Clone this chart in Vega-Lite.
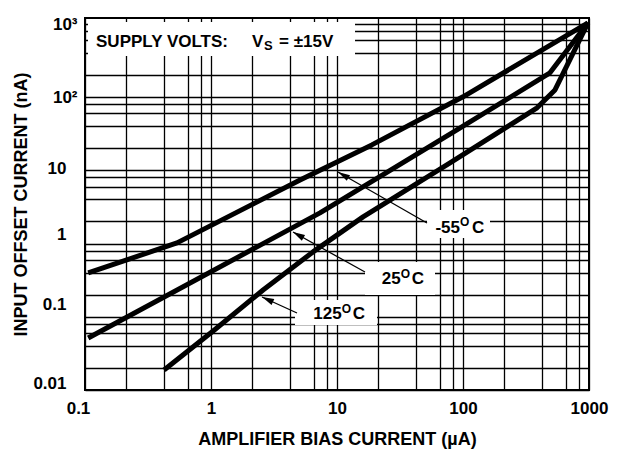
{
  "$schema": "https://vega.github.io/schema/vega-lite/v6.json",
  "width": 504,
  "height": 372,
  "autosize": {"type": "none"},
  "padding": {"left": 85, "top": 18, "right": 34, "bottom": 59},
  "background": "white",
  "config": {
    "view": {"stroke": "black", "strokeWidth": 2},
    "font": "Liberation Sans",
    "text": {"font": "Liberation Sans", "fontWeight": "bold", "fontSize": 17, "fill": "black", "baseline": "middle"}
  },
  "layer": [
    {
      "data": {"values": [
        {"series": "-55C", "x": 0.106, "y": 0.396},
        {"series": "-55C", "x": 0.537, "y": 1.02},
        {"series": "-55C", "x": 5.09, "y": 7.39},
        {"series": "-55C", "x": 18.9, "y": 22.2},
        {"series": "-55C", "x": 100, "y": 100.7},
        {"series": "-55C", "x": 982, "y": 1032},
        {"series": "25C", "x": 0.106, "y": 0.0513},
        {"series": "25C", "x": 7.33, "y": 2.62},
        {"series": "25C", "x": 81.8, "y": 32.4},
        {"series": "25C", "x": 490, "y": 214},
        {"series": "25C", "x": 982, "y": 1032},
        {"series": "125C", "x": 0.424, "y": 0.0188},
        {"series": "125C", "x": 1.04, "y": 0.064},
        {"series": "125C", "x": 2.59, "y": 0.232},
        {"series": "125C", "x": 6.45, "y": 0.768},
        {"series": "125C", "x": 16.1, "y": 2.31},
        {"series": "125C", "x": 78.9, "y": 12.6},
        {"series": "125C", "x": 387, "y": 71.2},
        {"series": "125C", "x": 537, "y": 125},
        {"series": "125C", "x": 982, "y": 1032}
      ]},
      "mark": {"type": "line", "stroke": "black", "strokeWidth": 5, "strokeCap": "butt", "strokeJoin": "round"},
      "encoding": {
        "x": {
          "field": "x", "type": "quantitative",
          "scale": {"type": "log", "domain": [0.1, 1000], "nice": false},
          "axis": {
            "title": "AMPLIFIER BIAS CURRENT (µA)",
            "titleFont": "Liberation Sans", "titleFontWeight": "bold", "titleFontSize": 18, "titleColor": "black",
            "titleX": 252, "titleY": 49, "titleBaseline": "middle", "titleAlign": "center",
            "values": [0.1, 0.21, 0.42, 0.66, 0.83, 1, 2.1, 4.2, 6.6, 8.3, 10, 21, 42, 66, 83, 100, 210, 420, 660, 830, 1000],
            "labelExpr": "datum.value==0.1?'0.1':datum.value==1?'1':datum.value==10?'10':datum.value==100?'100':datum.value==1000?'1000':''",
            "labelFont": "Liberation Sans", "labelFontWeight": "bold", "labelFontSize": 17, "labelColor": "black",
            "labelBaseline": "middle", "labelPadding": 18, "labelFlush": false, "labelOverlap": false,
            "labelOffset": {"condition": {"test": "datum.value == 0.1", "value": -7}, "value": 0},
            "ticks": false, "domain": false,
            "grid": true, "gridColor": "black", "gridOpacity": 1, "gridWidth": 1.3
          }
        },
        "y": {
          "field": "y", "type": "quantitative",
          "scale": {"type": "log", "domain": [0.01, 1200], "nice": false},
          "axis": {
            "title": "INPUT OFFSET CURRENT (nA)",
            "titleFont": "Liberation Sans", "titleFontWeight": "bold", "titleFontSize": 18, "titleColor": "black",
            "titleX": -64, "titleY": 186, "titleBaseline": "middle", "titleAlign": "center", "titleAngle": -90,
            "values": [0.01, 0.02, 0.04, 0.06, 0.08, 0.1, 0.2, 0.4, 0.6, 0.8, 1, 2, 4, 6, 8, 10, 20, 40, 60, 80, 100, 200, 400, 600, 800, 1000],
            "labelExpr": "datum.value==0.01?'0.01':datum.value==0.1?'0.1':datum.value==1?'1':datum.value==10?'10':datum.value==100?'10²':datum.value==1000?'10³':''",
            "labelFont": "Liberation Sans", "labelFontWeight": "bold", "labelFontSize": 17, "labelColor": "black",
            "labelBaseline": "middle", "labelFlush": false, "labelOverlap": false,
            "labelPadding": {"condition": {"test": "datum.value >= 100", "value": 8}, "value": 19},
            "labelOffset": {"condition": [
              {"test": "datum.value == 0.01", "value": -7},
              {"test": "datum.value == 0.1", "value": -12},
              {"test": "datum.value == 1", "value": -9},
              {"test": "datum.value == 10", "value": -2},
              {"test": "datum.value == 1000", "value": 1}
            ], "value": 0},
            "ticks": false, "domain": false,
            "grid": true, "gridColor": "black", "gridOpacity": 1, "gridWidth": 1.3
          }
        },
        "detail": {"field": "series"}
      }
    },
    {"data": {"values": [{}]}, "mark": {"type": "rect", "fill": "white"},
     "encoding": {"x": {"datum": 0.1056}, "x2": {"datum": 13.9}, "y": {"datum": 1058}, "y2": {"datum": 363.4}}},
    {"data": {"values": [{}]}, "mark": {"type": "rect", "fill": "white"},
     "encoding": {"x": {"datum": 51.8}, "x2": {"datum": 163.8}, "y": {"datum": 2.869}, "y2": {"datum": 1.189}}},
    {"data": {"values": [{}]}, "mark": {"type": "rect", "fill": "white"},
     "encoding": {"x": {"datum": 16.68}, "x2": {"datum": 59.95}, "y": {"datum": 0.5594}, "y2": {"datum": 0.1982}}},
    {"data": {"values": [{}]}, "mark": {"type": "rect", "fill": "white"},
     "encoding": {"x": {"datum": 4.642}, "x2": {"datum": 20.77}, "y": {"datum": 0.1694}, "y2": {"datum": 0.0772}}},
    {"data": {"values": [{}]}, "mark": {"type": "rule", "stroke": "black", "strokeWidth": 1.3},
     "encoding": {"x": {"datum": 51.8}, "y": {"datum": 1.906}, "x2": {"datum": 10.18}, "y2": {"datum": 9.47}}},
    {"data": {"values": [{}]}, "mark": {"type": "rule", "stroke": "black", "strokeWidth": 1.3},
     "encoding": {"x": {"datum": 16.68}, "y": {"datum": 0.4084}, "x2": {"datum": 4.475}, "y2": {"datum": 1.437}}},
    {"data": {"values": [{}]}, "mark": {"type": "rule", "stroke": "black", "strokeWidth": 1.3},
     "encoding": {"x": {"datum": 4.814}, "y": {"datum": 0.1125}, "x2": {"datum": 2.54}, "y2": {"datum": 0.1861}}},
    {"data": {"values": [{}]}, "mark": {"type": "point", "shape": "M0,-1L0.55,1L-0.55,1Z", "filled": true, "fill": "black", "opacity": 1, "size": 144, "angle": 300},
     "encoding": {"x": {"datum": 11.2}, "y": {"datum": 8.62}}},
    {"data": {"values": [{}]}, "mark": {"type": "point", "shape": "M0,-1L0.55,1L-0.55,1Z", "filled": true, "fill": "black", "opacity": 1, "size": 144, "angle": 299},
     "encoding": {"x": {"datum": 4.92}, "y": {"datum": 1.312}}},
    {"data": {"values": [{}]}, "mark": {"type": "point", "shape": "M0,-1L0.55,1L-0.55,1Z", "filled": true, "fill": "black", "opacity": 1, "size": 144, "angle": 295},
     "encoding": {"x": {"datum": 2.808}, "y": {"datum": 0.1721}}},
    {"data": {"values": [{}]}, "mark": {"type": "text", "text": "SUPPLY VOLTS:", "align": "left"},
     "encoding": {"x": {"datum": 0.1223}, "y": {"datum": 564.3}}},
    {"data": {"values": [{}]}, "mark": {"type": "text", "text": "V", "align": "left"},
     "encoding": {"x": {"datum": 2.115}, "y": {"datum": 564.3}}},
    {"data": {"values": [{}]}, "mark": {"type": "text", "text": "S", "align": "left", "fontSize": 13},
     "encoding": {"x": {"datum": 2.634}, "y": {"datum": 497.7}}},
    {"data": {"values": [{}]}, "mark": {"type": "text", "text": "= ±15V", "align": "left"},
     "encoding": {"x": {"datum": 3.465}, "y": {"datum": 564.3}}},
    {"data": {"values": [{}]}, "mark": {"type": "text", "text": "-55", "align": "right"},
     "encoding": {"x": {"datum": 94.66}, "y": {"datum": 1.654}}},
    {"data": {"values": [{}]}, "mark": {"type": "text", "text": "O", "align": "left", "fontSize": 12},
     "encoding": {"x": {"datum": 94.66}, "y": {"datum": 1.986}}},
    {"data": {"values": [{}]}, "mark": {"type": "text", "text": "C", "align": "left"},
     "encoding": {"x": {"datum": 117.9}, "y": {"datum": 1.654}}},
    {"data": {"values": [{}]}, "mark": {"type": "text", "text": "25", "align": "right"},
     "encoding": {"x": {"datum": 32.03}, "y": {"datum": 0.3227}}},
    {"data": {"values": [{}]}, "mark": {"type": "text", "text": "O", "align": "left", "fontSize": 12},
     "encoding": {"x": {"datum": 32.03}, "y": {"datum": 0.3835}}},
    {"data": {"values": [{}]}, "mark": {"type": "text", "text": "C", "align": "left"},
     "encoding": {"x": {"datum": 39.16}, "y": {"datum": 0.3227}}},
    {"data": {"values": [{}]}, "mark": {"type": "text", "text": "125", "align": "right"},
     "encoding": {"x": {"datum": 10.9}, "y": {"datum": 0.1091}}},
    {"data": {"values": [{}]}, "mark": {"type": "text", "text": "O", "align": "left", "fontSize": 12},
     "encoding": {"x": {"datum": 10.9}, "y": {"datum": 0.1276}}},
    {"data": {"values": [{}]}, "mark": {"type": "text", "text": "C", "align": "left"},
     "encoding": {"x": {"datum": 13.32}, "y": {"datum": 0.1091}}}
  ]
}
